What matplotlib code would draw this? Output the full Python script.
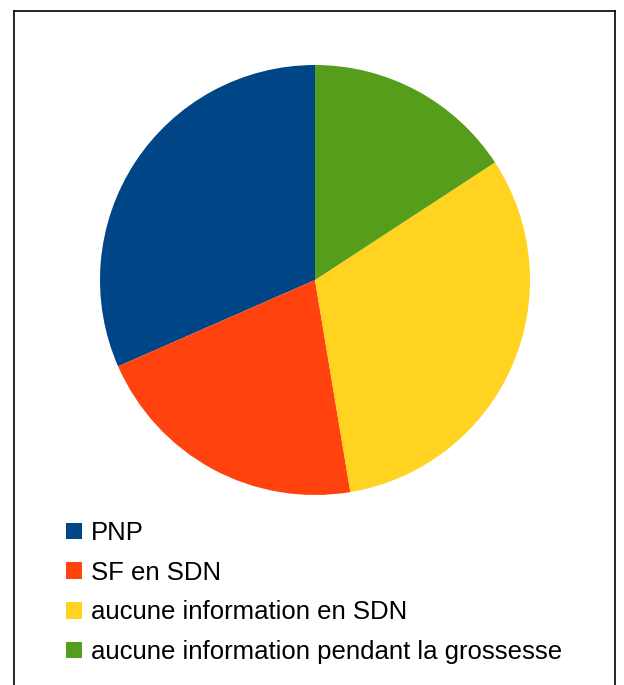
import matplotlib
matplotlib.use("Agg")
import matplotlib.pyplot as plt
from matplotlib.patches import Patch
from matplotlib.lines import Line2D

# ---------- data ----------
labels = ["PNP", "SF en SDN", "aucune information en SDN",
          "aucune information pendant la grossesse"]
counts = [6, 4, 6, 3]
colors = ["#004586", "#ff420e", "#ffd320", "#579d1c"]

plt.rcParams["font.family"] = ["Liberation Sans", "DejaVu Sans"]

W, H = 624, 685
fig = plt.figure(figsize=(W / 100, H / 100), dpi=100)

# ---------- pie ----------
cx, cy, r = 315, 280, 215
ax = fig.add_axes([(cx - r) / W, (H - cy - r) / H, 2 * r / W, 2 * r / H])
ax.pie(counts, colors=colors, startangle=90, radius=1,
       wedgeprops=dict(linewidth=0))
ax.set_xlim(-1, 1)
ax.set_ylim(-1, 1)
ax.set_aspect("equal")
ax.axis("off")

# ---------- legend ----------
handles = [Patch(facecolor=c, edgecolor="none") for c in colors]
fig.legend(handles, labels, loc="upper left",
           bbox_to_anchor=(66 / W, 1 - 521 / H), frameon=False,
           fontsize=18.5, handlelength=0.62, handleheight=0.62,
           handletextpad=0.36, labelspacing=0.61, borderaxespad=0,
           borderpad=0)

# ---------- frame (no bottom edge) ----------
x0, x1, y0 = 13.5 / W, 614.5 / W, 1 - 10.5 / H
for xs, ys in [([x0, x0], [0, y0]), ([x0, x1], [y0, y0]), ([x1, x1], [y0, 0])]:
    fig.add_artist(Line2D(xs, ys, color="black", linewidth=1.2,
                          transform=fig.transFigure))

fig.savefig("out.png", dpi=100)
